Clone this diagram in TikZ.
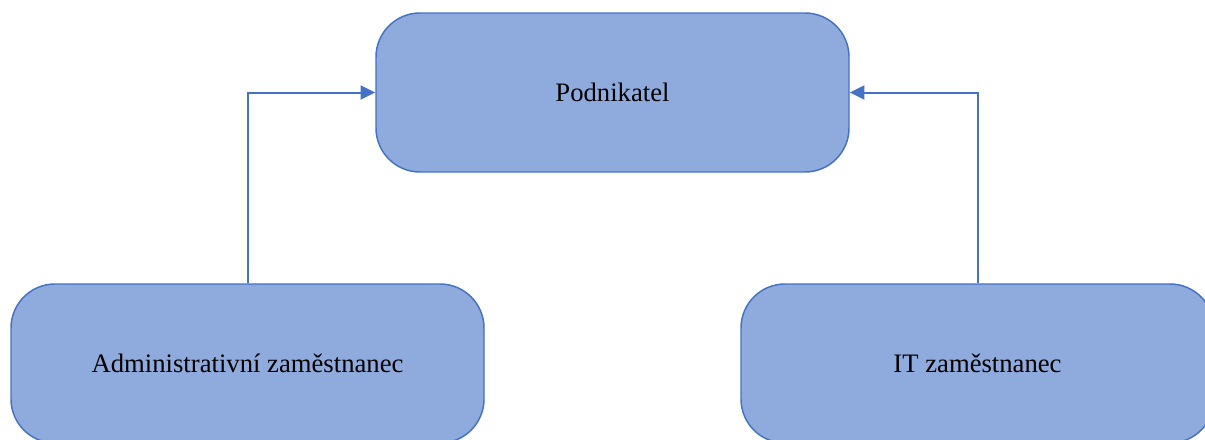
\documentclass[tikz,border=0pt]{standalone}
\usepackage{fontspec}
\setmainfont{Liberation Serif}
\usetikzlibrary{arrows.meta}
\definecolor{boxfill}{HTML}{8FAADC}
\definecolor{boxline}{HTML}{4472C4}
\begin{document}
\begin{tikzpicture}[x=0.75pt,y=-0.75pt,
  rbox/.style={draw=boxline,fill=boxfill,line width=1.1pt,rounded corners=33pt,
    minimum width=354.75pt,minimum height=119.25pt,inner sep=0pt,
    font=\fontsize{20}{24}\selectfont,text=black},
  conn/.style={draw=boxline,line width=1.5pt,-{Triangle[length=11pt,width=10.5pt]}}]
\useasboundingbox (0,0) rectangle (1205,439);
\node[rbox] (boss) at (612.5,92.5) {Podnikatel};
\node[rbox] (admin) at (247.5,363.5) {Administrativní zaměstnanec};
\node[rbox] (it) at (977.5,363.5) {IT zaměstnanec};
\draw[conn] (admin.north) |- (boss.west);
\draw[conn] (it.north) |- (boss.east);
\end{tikzpicture}
\end{document}
